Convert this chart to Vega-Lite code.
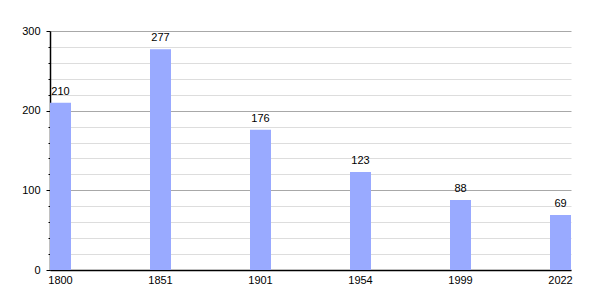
{
  "$schema": "https://vega.github.io/schema/vega-lite/v6.json",
  "width": 521,
  "height": 239,
  "autosize": {"type": "none"},
  "padding": {"left": 50, "top": 31, "right": 29, "bottom": 30},
  "background": "white",
  "config": {
    "view": {"stroke": null},
    "font": "Liberation Sans",
    "axis": {"labelFont": "Liberation Sans", "labelFontSize": 11, "labelColor": "black"}
  },
  "data": {
    "values": [
      {"year": "1800", "pop": 210},
      {"year": "1851", "pop": 277},
      {"year": "1901", "pop": 176},
      {"year": "1954", "pop": 123},
      {"year": "1999", "pop": 88},
      {"year": "2022", "pop": 69}
    ]
  },
  "encoding": {
    "x": {
      "field": "year",
      "type": "ordinal",
      "sort": null,
      "scale": {"paddingInner": 0.79, "paddingOuter": 0},
      "axis": {
        "title": null,
        "labelAngle": 0,
        "ticks": false,
        "labelPadding": 4,
        "domainColor": "black",
        "domainWidth": 1.5
      }
    },
    "y": {
      "field": "pop",
      "type": "quantitative",
      "scale": {"domain": [0, 300], "nice": false},
      "axis": {
        "title": null,
        "values": [0, 20, 40, 60, 80, 100, 120, 140, 160, 180, 200, 220, 240, 260, 280, 300],
        "labelExpr": "datum.value % 100 === 0 ? datum.label : ''",
        "gridColor": {"condition": {"test": "datum.value % 100 === 0", "value": "#a8a8a8"}, "value": "#dddddd"},
        "tickSize": {"condition": {"test": "datum.value % 100 === 0", "value": 4}, "value": 2},
        "tickColor": "black",
        "labelPadding": 6,
        "domainColor": "black",
        "domainWidth": 1.5
      }
    }
  },
  "layer": [
    {"mark": {"type": "bar", "color": "#99aaff"}},
    {
      "mark": {"type": "text", "dy": -6, "baseline": "bottom", "fontSize": 11, "color": "black", "font": "Liberation Sans"},
      "encoding": {"text": {"field": "pop", "type": "quantitative"}}
    }
  ]
}
